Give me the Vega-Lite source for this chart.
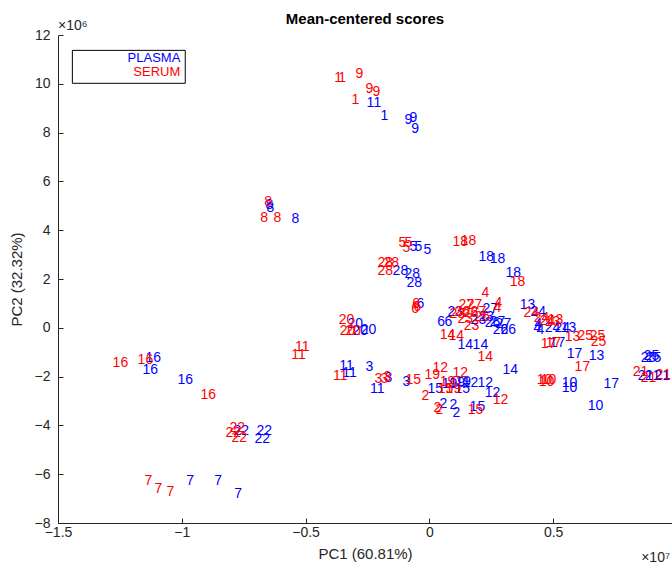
{
  "$schema": "https://vega.github.io/schema/vega-lite/v6.json",
  "width": 614,
  "height": 488,
  "autosize": {"type": "none"},
  "padding": {"left": 58, "top": 35, "right": 0, "bottom": 42},
  "background": "white",
  "config": {
    "font": "Liberation Sans",
    "view": {"stroke": null},
    "axis": {
      "domainColor": "#262626",
      "tickColor": "#262626",
      "labelColor": "#262626",
      "titleColor": "#262626",
      "labelFont": "Liberation Sans",
      "titleFont": "Liberation Sans",
      "labelFontSize": 14,
      "titleFontSize": 15,
      "titleFontWeight": "normal",
      "grid": false,
      "tickSize": -5
    }
  },
  "title": {
    "text": "Mean-centered scores",
    "font": "Liberation Sans",
    "fontSize": 15,
    "fontWeight": "bold",
    "color": "black",
    "anchor": "middle",
    "offset": -8
  },
  "datasets": {
    "pts": [
      {"grp": "PLASMA", "label": "1", "x": -0.238, "y": 9.202},
      {"grp": "PLASMA", "label": "1", "x": -0.210, "y": 9.202},
      {"grp": "PLASMA", "label": "1", "x": -0.182, "y": 8.671},
      {"grp": "PLASMA", "label": "9", "x": -0.085, "y": 8.507},
      {"grp": "PLASMA", "label": "9", "x": -0.065, "y": 8.589},
      {"grp": "PLASMA", "label": "9", "x": -0.057, "y": 8.139},
      {"grp": "PLASMA", "label": "8", "x": -0.646, "y": 5.031},
      {"grp": "PLASMA", "label": "8", "x": -0.642, "y": 4.908},
      {"grp": "PLASMA", "label": "8", "x": -0.541, "y": 4.458},
      {"grp": "PLASMA", "label": "5", "x": -0.065, "y": 3.313},
      {"grp": "PLASMA", "label": "5", "x": -0.044, "y": 3.313},
      {"grp": "PLASMA", "label": "5", "x": -0.008, "y": 3.190},
      {"grp": "PLASMA", "label": "18", "x": 0.230, "y": 2.904},
      {"grp": "PLASMA", "label": "18", "x": 0.275, "y": 2.822},
      {"grp": "PLASMA", "label": "18", "x": 0.339, "y": 2.249},
      {"grp": "PLASMA", "label": "28", "x": -0.117, "y": 2.331},
      {"grp": "PLASMA", "label": "28", "x": -0.069, "y": 2.209},
      {"grp": "PLASMA", "label": "28", "x": -0.061, "y": 1.840},
      {"grp": "PLASMA", "label": "6", "x": -0.036, "y": 0.982},
      {"grp": "PLASMA", "label": "6", "x": 0.048, "y": 0.245},
      {"grp": "PLASMA", "label": "6", "x": 0.077, "y": 0.245},
      {"grp": "PLASMA", "label": "20", "x": -0.299, "y": 0.164},
      {"grp": "PLASMA", "label": "20", "x": -0.279, "y": -0.123},
      {"grp": "PLASMA", "label": "20", "x": -0.246, "y": -0.082},
      {"grp": "PLASMA", "label": "14", "x": 0.145, "y": -0.695},
      {"grp": "PLASMA", "label": "14", "x": 0.206, "y": -0.695},
      {"grp": "PLASMA", "label": "14", "x": 0.327, "y": -1.718},
      {"grp": "PLASMA", "label": "4", "x": 0.436, "y": 0.0},
      {"grp": "PLASMA", "label": "4", "x": 0.440, "y": 0.164},
      {"grp": "PLASMA", "label": "4", "x": 0.448, "y": -0.082},
      {"grp": "PLASMA", "label": "27", "x": 0.246, "y": 0.777},
      {"grp": "PLASMA", "label": "27", "x": 0.275, "y": 0.245},
      {"grp": "PLASMA", "label": "27", "x": 0.299, "y": 0.164},
      {"grp": "PLASMA", "label": "23", "x": 0.105, "y": 0.654},
      {"grp": "PLASMA", "label": "23", "x": 0.230, "y": 0.450},
      {"grp": "PLASMA", "label": "23", "x": 0.198, "y": 0.327},
      {"grp": "PLASMA", "label": "26", "x": 0.255, "y": 0.205},
      {"grp": "PLASMA", "label": "26", "x": 0.287, "y": -0.082},
      {"grp": "PLASMA", "label": "26", "x": 0.319, "y": -0.082},
      {"grp": "PLASMA", "label": "13", "x": 0.396, "y": 0.941},
      {"grp": "PLASMA", "label": "13", "x": 0.562, "y": 0.0},
      {"grp": "PLASMA", "label": "13", "x": 0.675, "y": -1.145},
      {"grp": "PLASMA", "label": "24", "x": 0.440, "y": 0.654},
      {"grp": "PLASMA", "label": "24", "x": 0.497, "y": 0.0},
      {"grp": "PLASMA", "label": "24", "x": 0.537, "y": 0.0},
      {"grp": "PLASMA", "label": "25", "x": 0.885, "y": -1.227},
      {"grp": "PLASMA", "label": "25", "x": 0.905, "y": -1.227},
      {"grp": "PLASMA", "label": "25", "x": 0.897, "y": -1.145},
      {"grp": "PLASMA", "label": "17", "x": 0.517, "y": -0.613},
      {"grp": "PLASMA", "label": "17", "x": 0.586, "y": -1.063},
      {"grp": "PLASMA", "label": "17", "x": 0.735, "y": -2.290},
      {"grp": "PLASMA", "label": "10", "x": 0.566, "y": -2.249},
      {"grp": "PLASMA", "label": "10", "x": 0.566, "y": -2.454},
      {"grp": "PLASMA", "label": "10", "x": 0.671, "y": -3.190},
      {"grp": "PLASMA", "label": "21", "x": 0.873, "y": -1.963},
      {"grp": "PLASMA", "label": "21", "x": 0.901, "y": -1.963},
      {"grp": "PLASMA", "label": "21", "x": 0.941, "y": -1.963},
      {"grp": "PLASMA", "label": "11", "x": -0.335, "y": -1.554},
      {"grp": "PLASMA", "label": "11", "x": -0.323, "y": -1.840},
      {"grp": "PLASMA", "label": "11", "x": -0.210, "y": -2.495},
      {"grp": "PLASMA", "label": "3", "x": -0.242, "y": -1.595},
      {"grp": "PLASMA", "label": "3", "x": -0.166, "y": -2.045},
      {"grp": "PLASMA", "label": "3", "x": -0.093, "y": -2.209},
      {"grp": "PLASMA", "label": "15", "x": 0.194, "y": -3.231},
      {"grp": "PLASMA", "label": "15", "x": 0.024, "y": -2.495},
      {"grp": "PLASMA", "label": "15", "x": 0.133, "y": -2.495},
      {"grp": "PLASMA", "label": "19", "x": 0.113, "y": -2.249},
      {"grp": "PLASMA", "label": "19", "x": 0.137, "y": -2.209},
      {"grp": "PLASMA", "label": "19", "x": 0.081, "y": -2.290},
      {"grp": "PLASMA", "label": "12", "x": 0.166, "y": -2.249},
      {"grp": "PLASMA", "label": "12", "x": 0.226, "y": -2.249},
      {"grp": "PLASMA", "label": "12", "x": 0.255, "y": -2.658},
      {"grp": "PLASMA", "label": "2", "x": 0.057, "y": -3.108},
      {"grp": "PLASMA", "label": "2", "x": 0.097, "y": -3.149},
      {"grp": "PLASMA", "label": "2", "x": 0.109, "y": -3.476},
      {"grp": "PLASMA", "label": "16", "x": -1.115, "y": -1.227},
      {"grp": "PLASMA", "label": "16", "x": -1.127, "y": -1.718},
      {"grp": "PLASMA", "label": "16", "x": -0.986, "y": -2.127},
      {"grp": "PLASMA", "label": "22", "x": -0.760, "y": -4.213},
      {"grp": "PLASMA", "label": "22", "x": -0.667, "y": -4.213},
      {"grp": "PLASMA", "label": "22", "x": -0.675, "y": -4.540},
      {"grp": "PLASMA", "label": "7", "x": -0.966, "y": -6.299},
      {"grp": "PLASMA", "label": "7", "x": -0.853, "y": -6.299},
      {"grp": "PLASMA", "label": "7", "x": -0.772, "y": -6.830},
      {"grp": "SERUM", "label": "1", "x": -0.368, "y": 10.225},
      {"grp": "SERUM", "label": "1", "x": -0.352, "y": 10.225},
      {"grp": "SERUM", "label": "1", "x": -0.299, "y": 9.325},
      {"grp": "SERUM", "label": "9", "x": -0.283, "y": 10.389},
      {"grp": "SERUM", "label": "9", "x": -0.242, "y": 9.775},
      {"grp": "SERUM", "label": "9", "x": -0.214, "y": 9.652},
      {"grp": "SERUM", "label": "8", "x": -0.651, "y": 5.153},
      {"grp": "SERUM", "label": "8", "x": -0.667, "y": 4.499},
      {"grp": "SERUM", "label": "8", "x": -0.614, "y": 4.499},
      {"grp": "SERUM", "label": "5", "x": -0.109, "y": 3.476},
      {"grp": "SERUM", "label": "5", "x": -0.085, "y": 3.476},
      {"grp": "SERUM", "label": "5", "x": -0.093, "y": 3.272},
      {"grp": "SERUM", "label": "18", "x": 0.125, "y": 3.517},
      {"grp": "SERUM", "label": "18", "x": 0.158, "y": 3.558},
      {"grp": "SERUM", "label": "18", "x": 0.356, "y": 1.881},
      {"grp": "SERUM", "label": "28", "x": -0.178, "y": 2.658},
      {"grp": "SERUM", "label": "28", "x": -0.154, "y": 2.658},
      {"grp": "SERUM", "label": "28", "x": -0.178, "y": 2.331},
      {"grp": "SERUM", "label": "6", "x": -0.053, "y": 0.982},
      {"grp": "SERUM", "label": "6", "x": -0.057, "y": 0.777},
      {"grp": "SERUM", "label": "6", "x": -0.048, "y": 0.859},
      {"grp": "SERUM", "label": "20", "x": -0.335, "y": 0.327},
      {"grp": "SERUM", "label": "20", "x": -0.331, "y": -0.123},
      {"grp": "SERUM", "label": "20", "x": -0.307, "y": -0.123},
      {"grp": "SERUM", "label": "14", "x": 0.073, "y": -0.286},
      {"grp": "SERUM", "label": "14", "x": 0.109, "y": -0.327},
      {"grp": "SERUM", "label": "14", "x": 0.226, "y": -1.186},
      {"grp": "SERUM", "label": "4", "x": 0.226, "y": 1.431},
      {"grp": "SERUM", "label": "4", "x": 0.279, "y": 1.022},
      {"grp": "SERUM", "label": "4", "x": 0.275, "y": 0.818},
      {"grp": "SERUM", "label": "27", "x": 0.149, "y": 0.941},
      {"grp": "SERUM", "label": "27", "x": 0.182, "y": 0.941},
      {"grp": "SERUM", "label": "27", "x": 0.198, "y": 0.654},
      {"grp": "SERUM", "label": "23", "x": 0.113, "y": 0.573},
      {"grp": "SERUM", "label": "23", "x": 0.170, "y": 0.082},
      {"grp": "SERUM", "label": "23", "x": 0.145, "y": 0.368},
      {"grp": "SERUM", "label": "26", "x": 0.133, "y": 0.654},
      {"grp": "SERUM", "label": "26", "x": 0.166, "y": 0.613},
      {"grp": "SERUM", "label": "26", "x": 0.214, "y": 0.450},
      {"grp": "SERUM", "label": "24", "x": 0.412, "y": 0.613},
      {"grp": "SERUM", "label": "24", "x": 0.477, "y": 0.286},
      {"grp": "SERUM", "label": "24", "x": 0.453, "y": 0.409},
      {"grp": "SERUM", "label": "13", "x": 0.509, "y": 0.327},
      {"grp": "SERUM", "label": "13", "x": 0.578, "y": -0.368},
      {"grp": "SERUM", "label": "13", "x": 0.497, "y": 0.245},
      {"grp": "SERUM", "label": "25", "x": 0.630, "y": -0.327},
      {"grp": "SERUM", "label": "25", "x": 0.679, "y": -0.327},
      {"grp": "SERUM", "label": "25", "x": 0.683, "y": -0.573},
      {"grp": "SERUM", "label": "17", "x": 0.481, "y": -0.654},
      {"grp": "SERUM", "label": "17", "x": 0.501, "y": -0.613},
      {"grp": "SERUM", "label": "17", "x": 0.618, "y": -1.595},
      {"grp": "SERUM", "label": "10", "x": 0.465, "y": -2.127},
      {"grp": "SERUM", "label": "10", "x": 0.481, "y": -2.127},
      {"grp": "SERUM", "label": "10", "x": 0.473, "y": -2.209},
      {"grp": "SERUM", "label": "21", "x": 0.853, "y": -1.800},
      {"grp": "SERUM", "label": "21", "x": 0.885, "y": -2.045},
      {"grp": "SERUM", "label": "21", "x": 0.945, "y": -1.922},
      {"grp": "SERUM", "label": "11", "x": -0.513, "y": -0.777},
      {"grp": "SERUM", "label": "11", "x": -0.529, "y": -1.104},
      {"grp": "SERUM", "label": "11", "x": -0.360, "y": -1.963},
      {"grp": "SERUM", "label": "3", "x": -0.206, "y": -2.086},
      {"grp": "SERUM", "label": "3", "x": -0.182, "y": -2.086},
      {"grp": "SERUM", "label": "3", "x": -0.170, "y": -2.004},
      {"grp": "SERUM", "label": "15", "x": -0.065, "y": -2.127},
      {"grp": "SERUM", "label": "15", "x": 0.065, "y": -2.495},
      {"grp": "SERUM", "label": "15", "x": 0.186, "y": -3.354},
      {"grp": "SERUM", "label": "19", "x": 0.012, "y": -1.922},
      {"grp": "SERUM", "label": "19", "x": 0.073, "y": -2.209},
      {"grp": "SERUM", "label": "19", "x": 0.097, "y": -2.495},
      {"grp": "SERUM", "label": "12", "x": 0.044, "y": -1.636},
      {"grp": "SERUM", "label": "12", "x": 0.125, "y": -1.840},
      {"grp": "SERUM", "label": "12", "x": 0.287, "y": -2.945},
      {"grp": "SERUM", "label": "2", "x": -0.016, "y": -2.781},
      {"grp": "SERUM", "label": "2", "x": 0.032, "y": -3.272},
      {"grp": "SERUM", "label": "2", "x": 0.040, "y": -3.354},
      {"grp": "SERUM", "label": "16", "x": -1.248, "y": -1.431},
      {"grp": "SERUM", "label": "16", "x": -1.147, "y": -1.309},
      {"grp": "SERUM", "label": "16", "x": -0.893, "y": -2.740},
      {"grp": "SERUM", "label": "22", "x": -0.776, "y": -4.090},
      {"grp": "SERUM", "label": "22", "x": -0.792, "y": -4.294},
      {"grp": "SERUM", "label": "22", "x": -0.768, "y": -4.499},
      {"grp": "SERUM", "label": "7", "x": -1.135, "y": -6.299},
      {"grp": "SERUM", "label": "7", "x": -1.095, "y": -6.626},
      {"grp": "SERUM", "label": "7", "x": -1.046, "y": -6.748}
    ],
    "one": [{"k": 1}]
  },
  "layer": [
    {
      "data": {"name": "pts"},
      "mark": {"type": "text", "fontSize": 14, "font": "Liberation Sans", "align": "center", "baseline": "middle"},
      "encoding": {
        "x": {
          "field": "x",
          "type": "quantitative",
          "scale": {"domain": [-1.5, 0.98], "nice": false, "zero": false},
          "axis": {
            "values": [-1.5, -1, -0.5, 0, 0.5],
            "labelExpr": "datum.value == 0 ? '0' : format(datum.value, '')",
            "title": "PC1 (60.81%)",
            "labelPadding": 7,
            "titlePadding": 7,
            "labelFlush": false
          }
        },
        "y": {
          "field": "y",
          "type": "quantitative",
          "scale": {"domain": [-8, 12], "nice": false, "zero": false},
          "axis": {
            "values": [-8, -6, -4, -2, 0, 2, 4, 6, 8, 10, 12],
            "title": "PC2 (32.32%)",
            "labelPadding": 13,
            "titlePadding": 10,
            "labelFlush": false
          }
        },
        "text": {"field": "label"},
        "color": {
          "field": "grp",
          "type": "nominal",
          "scale": {"domain": ["PLASMA", "SERUM"], "range": ["#0000ff", "#ff0000"]},
          "legend": null
        }
      }
    },
    {
      "data": {"name": "one"},
      "mark": {"type": "rect", "fill": "white", "stroke": "black", "strokeWidth": 1},
      "encoding": {
        "x": {"datum": -1.442, "type": "quantitative"},
        "x2": {"datum": -0.986},
        "y": {"datum": 11.37, "type": "quantitative"},
        "y2": {"datum": 10.02}
      }
    },
    {
      "data": {"name": "one"},
      "mark": {"type": "text", "fontSize": 13, "font": "Liberation Sans", "align": "right", "baseline": "middle", "color": "#0000ff", "text": "PLASMA"},
      "encoding": {
        "x": {"datum": -1.006, "type": "quantitative"},
        "y": {"datum": 11.04, "type": "quantitative"}
      }
    },
    {
      "data": {"name": "one"},
      "mark": {"type": "text", "fontSize": 13, "font": "Liberation Sans", "align": "right", "baseline": "middle", "color": "#ff0000", "text": "SERUM"},
      "encoding": {
        "x": {"datum": -1.006, "type": "quantitative"},
        "y": {"datum": 10.47, "type": "quantitative"}
      }
    },
    {
      "data": {"name": "one"},
      "mark": {"type": "text", "fontSize": 14, "font": "Liberation Sans", "align": "left", "baseline": "bottom", "color": "#262626", "text": "×10⁶", "dy": -2},
      "encoding": {
        "x": {"datum": -1.5, "type": "quantitative"},
        "y": {"datum": 12, "type": "quantitative"}
      }
    },
    {
      "data": {"name": "one"},
      "mark": {"type": "text", "fontSize": 14, "font": "Liberation Sans", "align": "right", "baseline": "bottom", "color": "#262626", "text": "×10⁷", "dy": 42, "dx": -2},
      "encoding": {
        "x": {"datum": 0.98, "type": "quantitative"},
        "y": {"datum": -8, "type": "quantitative"}
      }
    }
  ]
}
